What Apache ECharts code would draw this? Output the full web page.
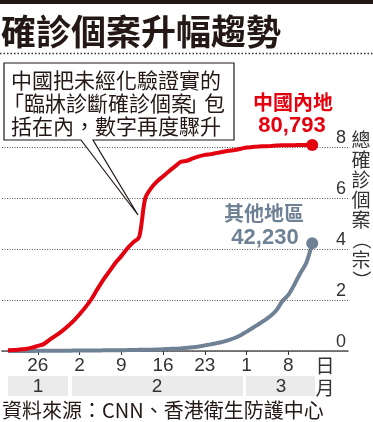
<!DOCTYPE html>
<html><head><meta charset="utf-8">
<script src="https://cdn.jsdelivr.net/npm/echarts@6/dist/echarts.min.js"></script>
<style>html,body{margin:0;padding:0;background:#fff}#c{width:373px;height:422px}</style>
</head><body><div id="c"></div>
<script>
const dates = ['1/20','1/21','1/22','1/23','1/24','1/25','1/26','1/27','1/28','1/29','1/30','1/31',
 '2/1','2/2','2/3','2/4','2/5','2/6','2/7','2/8','2/9','2/10','2/11','2/12','2/13','2/14','2/15','2/16','2/17','2/18','2/19','2/20','2/21','2/22','2/23','2/24','2/25','2/26','2/27','2/28','2/29',
 '3/1','3/2','3/3','3/4','3/5','3/6','3/7','3/8','3/9','3/10','3/11','3/12','3/13','3/14','3/15','3/16','3/17','3/18'];
const seriesDates = dates.slice(1, 53); // 1/21 .. 3/12
const tickDates = ['1/26','2/2','2/9','2/16','2/23','3/1','3/8'];
// unit: 10,000 cases
const chinaValues = [0.03,0.04,0.06,0.08,0.13,0.20,0.27,0.45,0.60,0.77,0.97,
 1.18,1.44,1.72,2.04,2.43,2.80,3.12,3.45,3.72,4.02,4.26,4.47,5.98,6.39,6.65,6.85,7.05,7.24,7.42,7.46,7.55,7.63,7.69,7.72,7.77,7.81,7.85,7.88,7.93,
 7.98,8.00,8.02,8.03,8.04,8.06,8.07,8.07,8.07,8.08,8.08,8.0793];
const otherValues = [0.001,0.001,0.002,0.003,0.004,0.005,0.006,0.008,0.010,0.012,0.014,
 0.015,0.016,0.018,0.020,0.022,0.025,0.028,0.030,0.032,0.035,0.040,0.045,0.048,0.050,0.055,
 0.07,0.08,0.09,0.10,0.13,0.15,0.18,0.22,0.26,0.31,0.36,0.43,0.51,0.62,
 0.76,0.90,1.05,1.20,1.37,1.60,1.95,2.20,2.60,3.05,3.45,4.223];
const chinaLabel = ['中國內地', '80,793'];
const otherLabel = ['其他地區', '42,230'];
const monthLabels = ['1', '2', '3'];
const title = '確診個案升幅趨勢';
const noteLines = ['中國把未經化驗證實的', '{w|「}臨牀診斷確診個案{n|」}包', '括在內，數字再度驟升'];
const yName = ['總','確','診','個','案','（','宗','）'];
const source = '資料來源：CNN、香港衛生防護中心';

const RED = '#e3000f', GRAY = '#6f8195';
const CJK = '"Noto Sans CJK TC"';
const LAT = '"Liberation Sans", Arial';

function mk(vals) {
  return vals.map((v, i) => [seriesDates[i], v]);
}
const lastSize = n => (val, p) => (p.dataIndex === n - 1 ? 12 : 0);

const noteFont = '21px ' + CJK;
const graphics = [
  { type: 'rect', shape: { x: 0, y: 0, width: 373, height: 4 }, style: { fill: '#231815' } },
  { type: 'text', x: 1, y: 32, style: { text: title, font: 'bold 35px ' + CJK, fill: '#231815', textVerticalAlign: 'middle' } },
  { type: 'line', shape: { x1: 0, y1: 53.5, x2: 373, y2: 53.5 }, style: { stroke: '#333', lineWidth: 1.5, lineDash: [1.5, 2] } },
  { type: 'polygon', z: 100, shape: { points: [[4,63],[234,63],[234,140],[93,140],[138,215],[81,140],[4,140]] },
    style: { fill: '#fff', stroke: '#231815', lineWidth: 1.2 } },
  { type: 'text', z: 101, x: 11, y: 80, style: { text: noteLines[0], font: noteFont, fill: '#231815', textVerticalAlign: 'middle' } },
  { type: 'text', z: 101, x: 3, y: 103, style: { text: noteLines[1], font: noteFont, fill: '#231815', textVerticalAlign: 'middle',
      rich: { w: { font: noteFont, width: 21, align: 'center' }, n: { font: noteFont, width: 12, align: 'center' } } } },
  { type: 'text', z: 101, x: 11, y: 126, style: { text: noteLines[2], font: noteFont, fill: '#231815', textVerticalAlign: 'middle' } },
  { type: 'text', x: 293, y: 102, style: { text: chinaLabel[0], font: 'bold 20px ' + CJK, fill: RED, textAlign: 'center', textVerticalAlign: 'middle' } },
  { type: 'text', x: 292, y: 126, style: { text: chinaLabel[1], font: 'bold 22px ' + LAT, fill: RED, textAlign: 'center', textVerticalAlign: 'middle' } },
  { type: 'text', x: 264, y: 213, style: { text: otherLabel[0], font: 'bold 20px ' + CJK, fill: GRAY, textAlign: 'center', textVerticalAlign: 'middle' } },
  { type: 'text', x: 265, y: 238, style: { text: otherLabel[1], font: 'bold 22px ' + LAT, fill: GRAY, textAlign: 'center', textVerticalAlign: 'middle' } },
  { type: 'rect', shape: { x: 8, y: 376, width: 60, height: 20 }, style: { fill: '#ebebeb' } },
  { type: 'rect', shape: { x: 72, y: 376, width: 171, height: 20 }, style: { fill: '#ebebeb' } },
  { type: 'rect', shape: { x: 246, y: 376, width: 69, height: 20 }, style: { fill: '#ebebeb' } },
  { type: 'text', x: 38, y: 387, style: { text: monthLabels[0], font: '19px ' + LAT, fill: '#333', textAlign: 'center', textVerticalAlign: 'middle' } },
  { type: 'text', x: 157, y: 387, style: { text: monthLabels[1], font: '19px ' + LAT, fill: '#333', textAlign: 'center', textVerticalAlign: 'middle' } },
  { type: 'text', x: 281, y: 387, style: { text: monthLabels[2], font: '19px ' + LAT, fill: '#333', textAlign: 'center', textVerticalAlign: 'middle' } },
  { type: 'text', x: 325, y: 366, style: { text: '日', font: '19px ' + CJK, fill: '#333', textAlign: 'center', textVerticalAlign: 'middle' } },
  { type: 'text', x: 325, y: 388, style: { text: '月', font: '19px ' + CJK, fill: '#333', textAlign: 'center', textVerticalAlign: 'middle' } },
  { type: 'text', x: 2, y: 410, style: { text: source, font: '20px ' + CJK, fill: '#231815', textVerticalAlign: 'middle' } }
];
yName.forEach((ch, i) => {
  const paren = ch === '（' || ch === '）';
  graphics.push({ type: 'text', x: 361, y: 140 + i * 20, rotation: paren ? -Math.PI / 2 : 0,
    style: { text: ch, font: '19px ' + CJK, fill: '#333', textAlign: 'center', textVerticalAlign: 'middle' } });
});

const chart = echarts.init(document.getElementById('c'), null, { renderer: 'canvas' });
chart.setOption({
  animation: false,
  grid: { left: 2, right: 25, top: 147, bottom: 71 },
  xAxis: {
    type: 'category', data: dates, boundaryGap: false,
    axisLine: { lineStyle: { color: '#555', width: 1.5 } },
    axisTick: { show: true, length: 4, interval: (i, v) => tickDates.includes(v), lineStyle: { color: '#333' } },
    axisLabel: { interval: (i, v) => tickDates.includes(v), formatter: v => v.split('/')[1], fontSize: 19, color: '#333', margin: 5, fontFamily: 'Liberation Sans' },
    splitLine: { show: false }
  },
  yAxis: {
    type: 'value', position: 'right', min: 0, max: 8, interval: 2,
    axisLine: { show: false }, axisTick: { show: false },
    axisLabel: { inside: true, margin: 2, fontSize: 18, color: '#333', verticalAlign: 'bottom', fontFamily: 'Liberation Sans' },
    splitLine: { lineStyle: { type: [1, 1.5], color: '#555', width: 1 } }
  },
  series: [
    { type: 'line', data: mk(otherValues), clip: false, smooth: 0.3, showSymbol: true, showAllSymbol: true,
      symbol: 'circle', symbolSize: lastSize(otherValues.length),
      lineStyle: { color: GRAY, width: 4 }, itemStyle: { color: GRAY, borderWidth: 0 }, z: 3 },
    { type: 'line', data: mk(chinaValues), clip: false, smooth: 0.3, showSymbol: true, showAllSymbol: true,
      symbol: 'circle', symbolSize: lastSize(chinaValues.length),
      lineStyle: { color: RED, width: 4 }, itemStyle: { color: RED, borderWidth: 0 }, z: 4 }
  ],
  graphic: graphics
});
</script></body></html>
